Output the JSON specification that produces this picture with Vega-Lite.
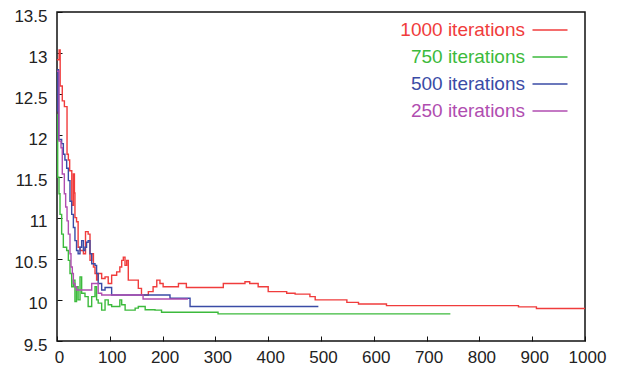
{
  "$schema": "https://vega.github.io/schema/vega-lite/v6.json",
  "width": 528,
  "height": 329,
  "autosize": "none",
  "padding": {"left": 57, "top": 12, "right": 33, "bottom": 31},
  "background": "white",
  "config": {
    "view": {"stroke": "#111", "strokeWidth": 1.5},
    "font": "Liberation Sans"
  },
  "data": {
    "values": [
      {"s": "1000 iterations", "x": 0, "y": 12.92},
      {"s": "1000 iterations", "x": 4, "y": 13.04},
      {"s": "1000 iterations", "x": 6, "y": 12.6},
      {"s": "1000 iterations", "x": 10, "y": 12.42},
      {"s": "1000 iterations", "x": 14, "y": 12.35},
      {"s": "1000 iterations", "x": 19, "y": 11.77},
      {"s": "1000 iterations", "x": 21.5, "y": 11.7},
      {"s": "1000 iterations", "x": 24, "y": 11.57},
      {"s": "1000 iterations", "x": 28, "y": 11.15},
      {"s": "1000 iterations", "x": 31, "y": 11.53},
      {"s": "1000 iterations", "x": 33, "y": 11.3},
      {"s": "1000 iterations", "x": 34, "y": 11.0},
      {"s": "1000 iterations", "x": 37, "y": 10.95},
      {"s": "1000 iterations", "x": 40, "y": 10.64},
      {"s": "1000 iterations", "x": 43.6, "y": 10.6},
      {"s": "1000 iterations", "x": 50, "y": 10.56},
      {"s": "1000 iterations", "x": 54, "y": 10.83},
      {"s": "1000 iterations", "x": 59, "y": 10.8},
      {"s": "1000 iterations", "x": 62.5, "y": 10.48},
      {"s": "1000 iterations", "x": 65.7, "y": 10.56},
      {"s": "1000 iterations", "x": 69, "y": 10.4},
      {"s": "1000 iterations", "x": 72, "y": 10.32},
      {"s": "1000 iterations", "x": 75, "y": 10.24},
      {"s": "1000 iterations", "x": 78, "y": 10.32},
      {"s": "1000 iterations", "x": 84.6, "y": 10.26},
      {"s": "1000 iterations", "x": 91, "y": 10.28},
      {"s": "1000 iterations", "x": 97, "y": 10.2},
      {"s": "1000 iterations", "x": 103.5, "y": 10.3},
      {"s": "1000 iterations", "x": 113, "y": 10.34},
      {"s": "1000 iterations", "x": 119, "y": 10.4},
      {"s": "1000 iterations", "x": 122.5, "y": 10.48},
      {"s": "1000 iterations", "x": 125.6, "y": 10.52},
      {"s": "1000 iterations", "x": 128.8, "y": 10.42},
      {"s": "1000 iterations", "x": 132, "y": 10.48},
      {"s": "1000 iterations", "x": 135, "y": 10.24},
      {"s": "1000 iterations", "x": 154, "y": 10.14},
      {"s": "1000 iterations", "x": 160, "y": 10.06},
      {"s": "1000 iterations", "x": 173, "y": 10.1},
      {"s": "1000 iterations", "x": 182, "y": 10.16},
      {"s": "1000 iterations", "x": 189, "y": 10.24},
      {"s": "1000 iterations", "x": 195, "y": 10.2},
      {"s": "1000 iterations", "x": 201, "y": 10.16},
      {"s": "1000 iterations", "x": 230, "y": 10.2},
      {"s": "1000 iterations", "x": 245, "y": 10.15},
      {"s": "1000 iterations", "x": 315, "y": 10.2},
      {"s": "1000 iterations", "x": 356, "y": 10.22},
      {"s": "1000 iterations", "x": 365, "y": 10.2},
      {"s": "1000 iterations", "x": 381, "y": 10.16},
      {"s": "1000 iterations", "x": 400, "y": 10.1},
      {"s": "1000 iterations", "x": 435, "y": 10.08},
      {"s": "1000 iterations", "x": 451, "y": 10.07},
      {"s": "1000 iterations", "x": 479, "y": 10.04},
      {"s": "1000 iterations", "x": 489, "y": 10.0},
      {"s": "1000 iterations", "x": 549, "y": 9.97},
      {"s": "1000 iterations", "x": 571, "y": 9.95},
      {"s": "1000 iterations", "x": 624, "y": 9.93},
      {"s": "1000 iterations", "x": 874, "y": 9.915},
      {"s": "1000 iterations", "x": 908, "y": 9.895},
      {"s": "1000 iterations", "x": 1000, "y": 9.895},

      {"s": "750 iterations", "x": 0, "y": 12.25},
      {"s": "750 iterations", "x": 1.3, "y": 11.49},
      {"s": "750 iterations", "x": 3.8, "y": 11.29},
      {"s": "750 iterations", "x": 5.7, "y": 11.04},
      {"s": "750 iterations", "x": 8.8, "y": 10.8},
      {"s": "750 iterations", "x": 12, "y": 10.64},
      {"s": "750 iterations", "x": 18.3, "y": 10.6},
      {"s": "750 iterations", "x": 21.5, "y": 10.48},
      {"s": "750 iterations", "x": 24.6, "y": 10.32},
      {"s": "750 iterations", "x": 27.8, "y": 10.16},
      {"s": "750 iterations", "x": 31, "y": 10.24},
      {"s": "750 iterations", "x": 34, "y": 9.98},
      {"s": "750 iterations", "x": 37, "y": 10.16},
      {"s": "750 iterations", "x": 40, "y": 10.0},
      {"s": "750 iterations", "x": 43.6, "y": 10.28},
      {"s": "750 iterations", "x": 46.7, "y": 10.08},
      {"s": "750 iterations", "x": 53, "y": 10.04},
      {"s": "750 iterations", "x": 59, "y": 9.92},
      {"s": "750 iterations", "x": 65.7, "y": 10.04},
      {"s": "750 iterations", "x": 72, "y": 10.16},
      {"s": "750 iterations", "x": 75, "y": 10.0},
      {"s": "750 iterations", "x": 78, "y": 9.96},
      {"s": "750 iterations", "x": 84.6, "y": 9.875},
      {"s": "750 iterations", "x": 91, "y": 10.0},
      {"s": "750 iterations", "x": 97, "y": 9.94},
      {"s": "750 iterations", "x": 103.5, "y": 9.92},
      {"s": "750 iterations", "x": 119, "y": 10.0},
      {"s": "750 iterations", "x": 122.5, "y": 9.94},
      {"s": "750 iterations", "x": 129, "y": 9.875},
      {"s": "750 iterations", "x": 148, "y": 9.9},
      {"s": "750 iterations", "x": 154, "y": 9.92},
      {"s": "750 iterations", "x": 167, "y": 9.88},
      {"s": "750 iterations", "x": 185.6, "y": 9.875},
      {"s": "750 iterations", "x": 198, "y": 9.85},
      {"s": "750 iterations", "x": 305, "y": 9.83},
      {"s": "750 iterations", "x": 745, "y": 9.83},

      {"s": "500 iterations", "x": 0, "y": 12.3},
      {"s": "500 iterations", "x": 1.5, "y": 12.8},
      {"s": "500 iterations", "x": 3, "y": 11.95},
      {"s": "500 iterations", "x": 8.8, "y": 11.9},
      {"s": "500 iterations", "x": 12, "y": 11.77},
      {"s": "500 iterations", "x": 15, "y": 11.7},
      {"s": "500 iterations", "x": 18.3, "y": 11.6},
      {"s": "500 iterations", "x": 21.5, "y": 11.45},
      {"s": "500 iterations", "x": 24.6, "y": 11.2},
      {"s": "500 iterations", "x": 27.8, "y": 11.04},
      {"s": "500 iterations", "x": 31, "y": 10.88},
      {"s": "500 iterations", "x": 34, "y": 10.72},
      {"s": "500 iterations", "x": 37, "y": 10.6},
      {"s": "500 iterations", "x": 40, "y": 10.56},
      {"s": "500 iterations", "x": 43.6, "y": 10.64},
      {"s": "500 iterations", "x": 46.7, "y": 10.72},
      {"s": "500 iterations", "x": 50, "y": 10.6},
      {"s": "500 iterations", "x": 53, "y": 10.64},
      {"s": "500 iterations", "x": 56, "y": 10.7},
      {"s": "500 iterations", "x": 59, "y": 10.72},
      {"s": "500 iterations", "x": 62.5, "y": 10.56},
      {"s": "500 iterations", "x": 65.7, "y": 10.44},
      {"s": "500 iterations", "x": 72, "y": 10.42},
      {"s": "500 iterations", "x": 75, "y": 10.32},
      {"s": "500 iterations", "x": 78, "y": 10.2},
      {"s": "500 iterations", "x": 84.6, "y": 10.12},
      {"s": "500 iterations", "x": 91, "y": 10.15},
      {"s": "500 iterations", "x": 103.5, "y": 10.06},
      {"s": "500 iterations", "x": 214, "y": 10.02},
      {"s": "500 iterations", "x": 252, "y": 9.92},
      {"s": "500 iterations", "x": 495, "y": 9.92},

      {"s": "250 iterations", "x": 0, "y": 12.78},
      {"s": "250 iterations", "x": 3.8, "y": 11.93},
      {"s": "250 iterations", "x": 7.6, "y": 11.85},
      {"s": "250 iterations", "x": 10, "y": 11.53},
      {"s": "250 iterations", "x": 13.9, "y": 11.29},
      {"s": "250 iterations", "x": 16.4, "y": 11.13},
      {"s": "250 iterations", "x": 19, "y": 10.96},
      {"s": "250 iterations", "x": 21.5, "y": 10.8},
      {"s": "250 iterations", "x": 24.6, "y": 10.56},
      {"s": "250 iterations", "x": 26.5, "y": 10.4},
      {"s": "250 iterations", "x": 29, "y": 10.32},
      {"s": "250 iterations", "x": 31, "y": 10.2},
      {"s": "250 iterations", "x": 34, "y": 10.16},
      {"s": "250 iterations", "x": 37, "y": 10.12},
      {"s": "250 iterations", "x": 65.7, "y": 10.2},
      {"s": "250 iterations", "x": 78, "y": 10.08},
      {"s": "250 iterations", "x": 84.6, "y": 10.06},
      {"s": "250 iterations", "x": 163, "y": 10.01},
      {"s": "250 iterations", "x": 248, "y": 10.01}
    ]
  },
  "mark": {"type": "line", "interpolate": "step-after", "strokeWidth": 1.4},
  "encoding": {
    "x": {
      "field": "x", "type": "quantitative",
      "scale": {"domain": [0, 1000], "nice": false, "zero": false},
      "axis": {
        "title": null, "grid": false, "domain": false,
        "values": [0, 100, 200, 300, 400, 500, 600, 700, 800, 900, 1000],
        "format": "d",
        "tickSize": -5, "tickColor": "#111",
        "labelFontSize": 17, "labelColor": "#222", "labelPadding": 13,
        "labelOffset": 2, "labelFlush": false
      }
    },
    "y": {
      "field": "y", "type": "quantitative",
      "scale": {"domain": [9.5, 13.5], "nice": false, "zero": false},
      "axis": {
        "title": null, "grid": false, "domain": false,
        "values": [9.5, 10, 10.5, 11, 11.5, 12, 12.5, 13, 13.5],
        "format": "~g",
        "tickSize": -5, "tickColor": "#111",
        "labelFontSize": 17, "labelColor": "#222", "labelPadding": 15,
        "labelOffset": 4, "labelFlush": false
      }
    },
    "color": {
      "field": "s", "type": "nominal",
      "scale": {
        "domain": ["1000 iterations", "750 iterations", "500 iterations", "250 iterations"],
        "range": ["#f03c3c", "#3cba3c", "#3a4ba6", "#b04db0"]
      },
      "legend": {
        "title": null,
        "orient": "none",
        "legendX": 482,
        "legendY": 7,
        "padding": 0,
        "symbolType": "M-1.75,0H1.75",
        "symbolSize": 400,
        "symbolStrokeWidth": 1.5,
        "labelFontSize": 19,
        "labelAlign": "right",
        "labelOffset": -36,
        "labelLimit": 300,
        "rowPadding": 6,
        "encode": {
          "labels": {"update": {"fill": {"scale": "color", "field": "value"}}}
        }
      }
    }
  }
}
